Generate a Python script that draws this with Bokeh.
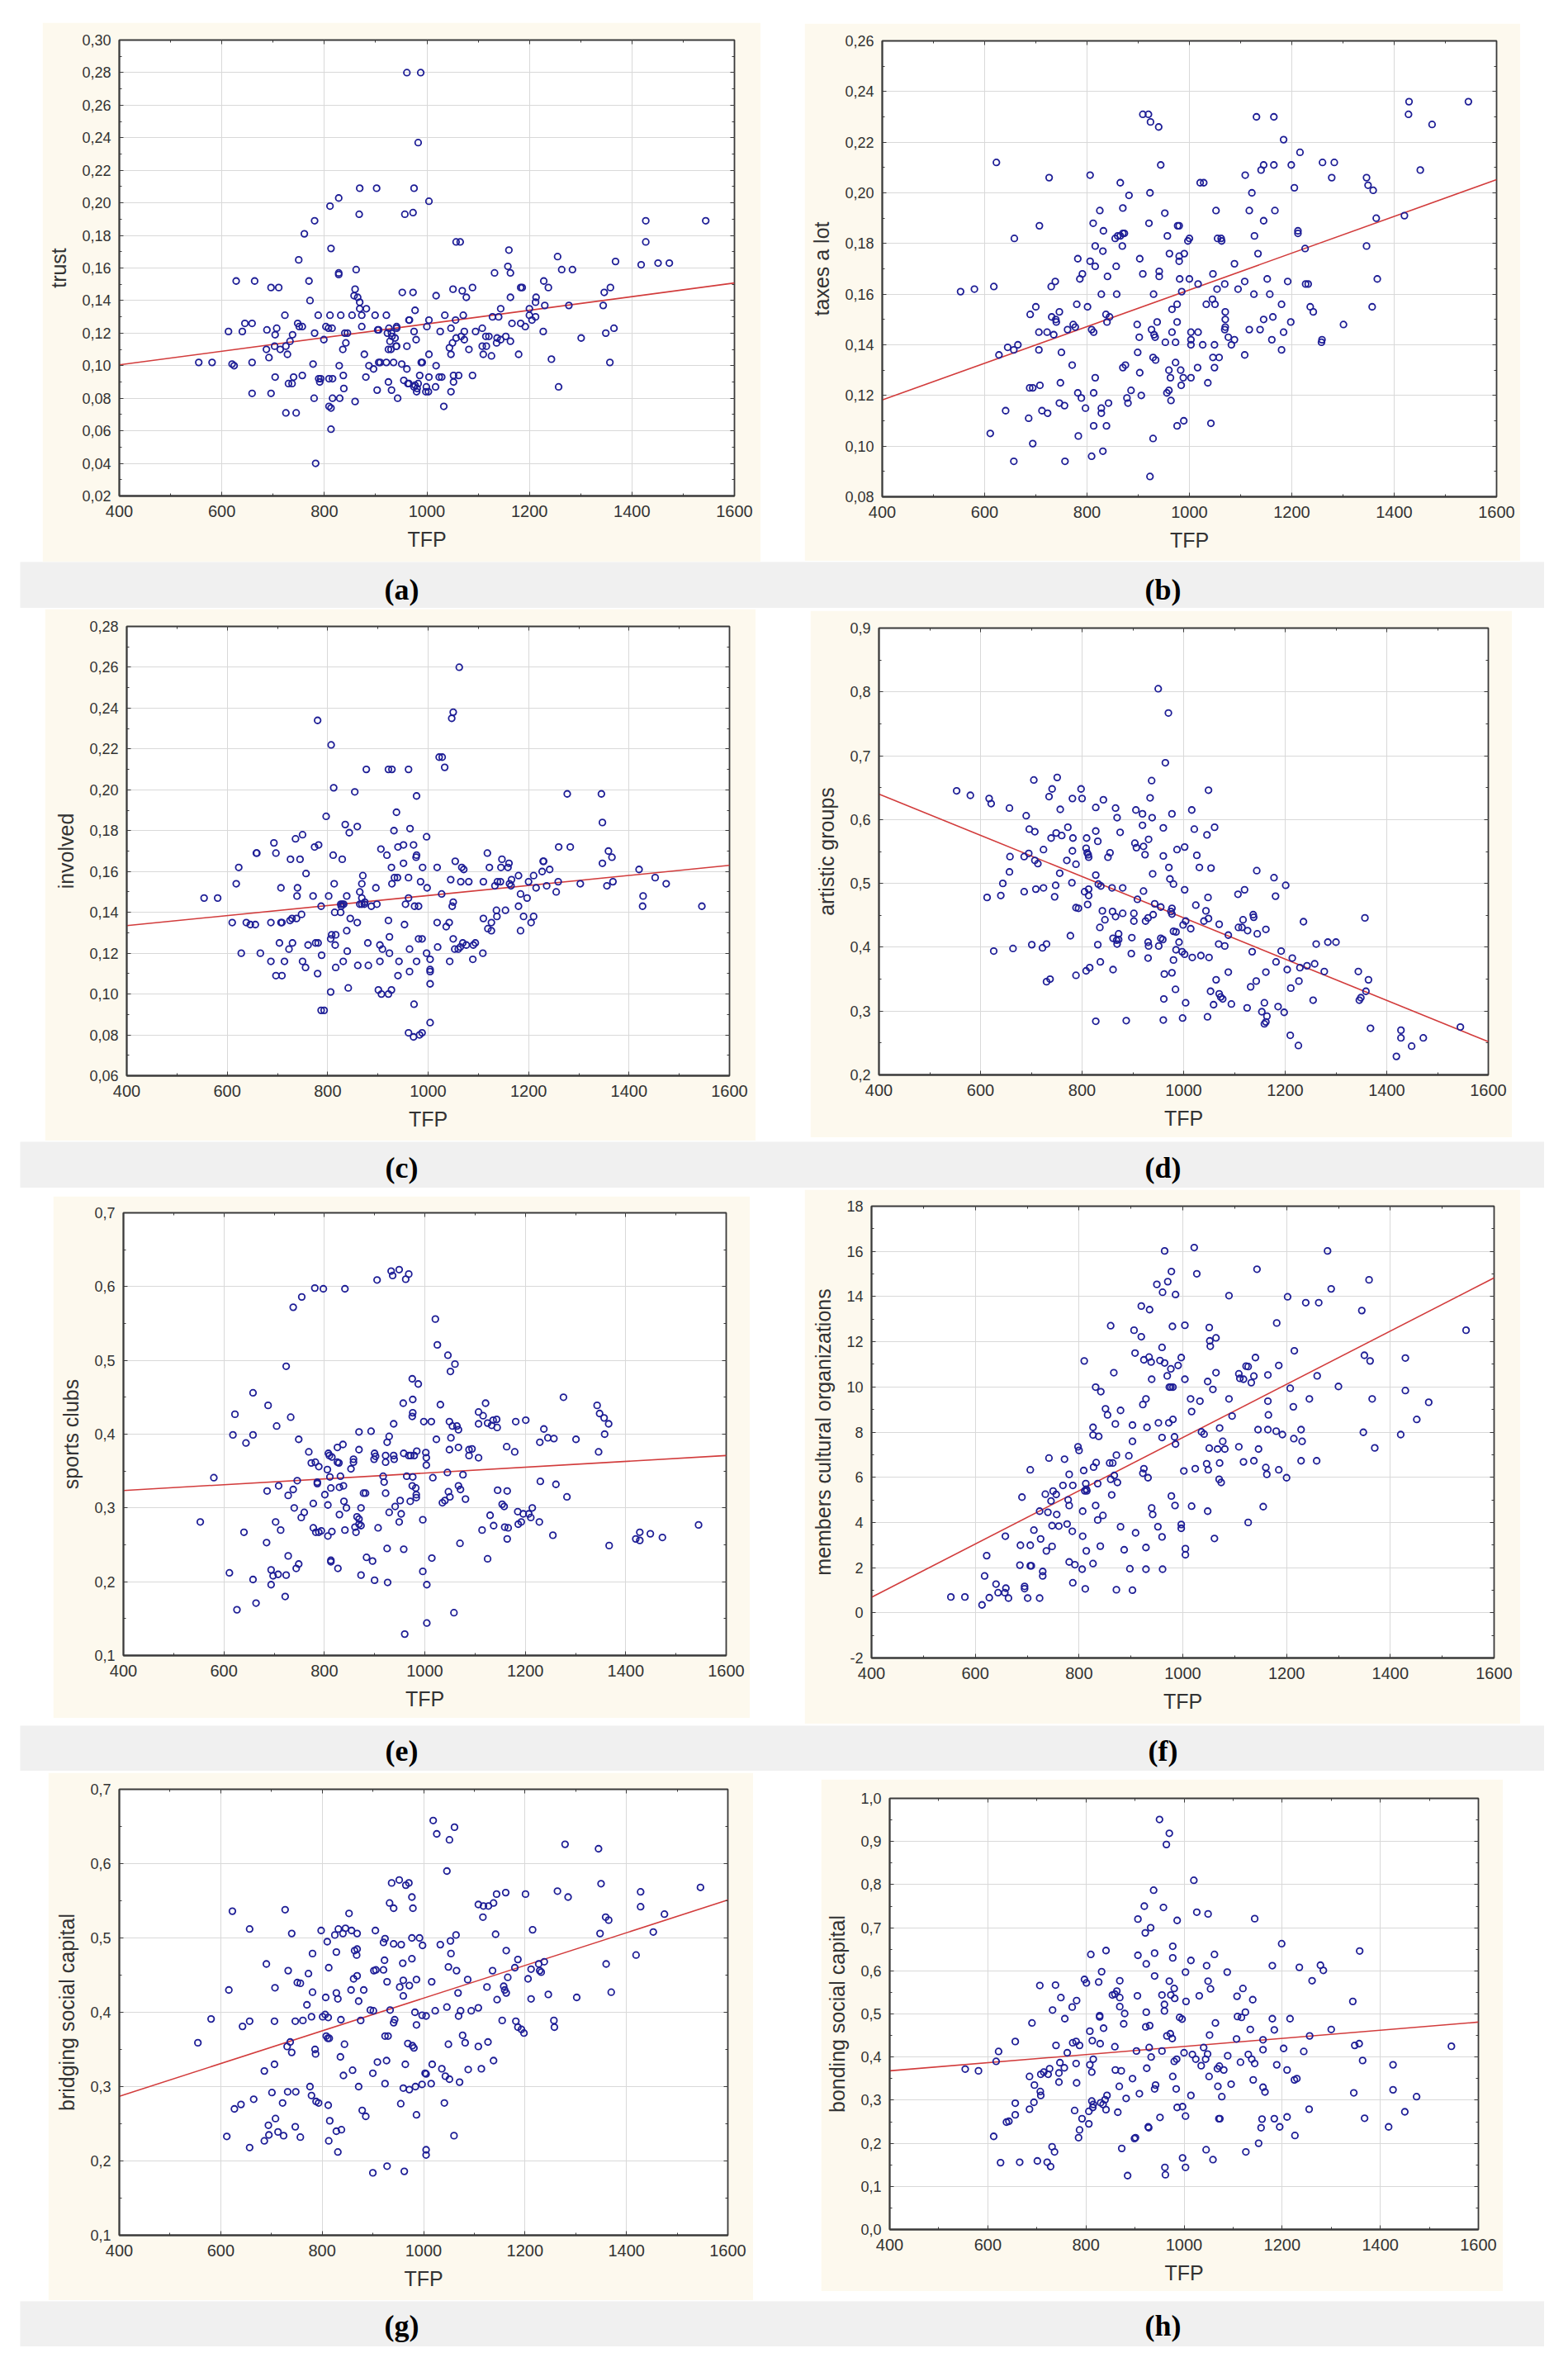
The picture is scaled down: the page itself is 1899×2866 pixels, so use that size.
from bokeh.plotting import figure
from bokeh.models import Range1d, FixedTicker, CustomJSTickFormatter, LinearAxis, Label, Spacer, ColumnDataSource
from bokeh.layouts import column, row
from bokeh.embed import file_html
from bokeh.resources import INLINE

# ---------------- data (TFP, value) ----------------
trust_pts = [(961,0.280),(988,0.280),(983,0.237),(869,0.209),(902,0.209),(975,0.209),(828,0.203),(811,0.198),(1004,0.201),(868,0.193),(957,0.193),(973,0.194),(781,0.189),(761,0.181),(813,0.172),(750,0.165),(828,0.157),(828,0.156),(862,0.159),(770,0.152),(628,0.152),(664,0.152),(696,0.148),(711,0.148),(772,0.140),(860,0.147),(858,0.143),(865,0.142),(869,0.139),(869,0.135),(873,0.131),(882,0.135),(873,0.124),(899,0.131),(921,0.131),(952,0.145),(973,0.145),(965,0.128),(966,0.128),(977,0.134),(1057,0.176),(1065,0.176),(1160,0.171),(1158,0.161),(1163,0.157),(1132,0.157),(1255,0.167),(1263,0.159),(1284,0.159),(1427,0.189),(1427,0.176),(1544,0.189),(1418,0.162),(1451,0.163),(1473,0.163),(1368,0.164),(1346,0.145),(1358,0.148),(1344,0.137),(1365,0.123),(1349,0.120),(1357,0.102),(1301,0.117),(1277,0.137),(1228,0.152),(1237,0.148),(1213,0.142),(1212,0.139),(1230,0.137),(1200,0.135),(1200,0.131),(1205,0.128),(1212,0.130),(1227,0.121),(1243,0.104),(1257,0.087),(1183,0.148),(1186,0.148),(1163,0.142),(1166,0.126),(1183,0.126),(1192,0.124),(1179,0.107),(1163,0.115),(1144,0.135),(1140,0.130),(1128,0.130),(1137,0.117),(1144,0.116),(1154,0.118),(1136,0.114),(1115,0.118),(1121,0.118),(1108,0.123),(1108,0.112),(1110,0.107),(1116,0.112),(1126,0.106),(1095,0.121),(1089,0.148),(1069,0.146),(1077,0.142),(1051,0.147),(1071,0.131),(1056,0.128),(1035,0.131),(1047,0.123),(1073,0.121),(1057,0.117),(1067,0.118),(1073,0.116),(1082,0.110),(1044,0.111),(1047,0.107),(1050,0.114),(1026,0.121),(1004,0.128),(1000,0.124),(1018,0.143),(1062,0.094),(1052,0.094),(1052,0.090),(1047,0.084),(1089,0.094),(1018,0.100),(1024,0.093),(1029,0.093),(1017,0.087),(1033,0.075),(1004,0.107),(1004,0.093),(999,0.087),(1003,0.084),(998,0.084),(986,0.094),(983,0.089),(981,0.086),(980,0.084),(975,0.087),(977,0.088),(963,0.089),(965,0.089),(955,0.091),(961,0.098),(951,0.101),(989,0.102),(991,0.102),(975,0.121),(979,0.116),(961,0.112),(926,0.123),(932,0.118),(931,0.120),(928,0.115),(930,0.110),(938,0.117),(940,0.112),(941,0.112),(906,0.122),(904,0.122),(923,0.120),(925,0.110),(941,0.123),(941,0.124),(906,0.102),(909,0.102),(921,0.102),(935,0.102),(896,0.098),(887,0.100),(903,0.085),(925,0.090),(931,0.085),(943,0.080),(878,0.107),(881,0.093),(860,0.078),(830,0.080),(829,0.100),(837,0.094),(838,0.086),(836,0.110),(842,0.114),(840,0.120),(845,0.120),(808,0.123),(815,0.123),(803,0.124),(811,0.131),(832,0.131),(854,0.131),(799,0.116),(781,0.120),(788,0.131),(778,0.101),(809,0.092),(816,0.092),(789,0.092),(791,0.090),(793,0.092),(780,0.080),(816,0.080),(809,0.075),(813,0.074),(813,0.061),(783,0.040),(745,0.071),(725,0.071),(730,0.089),(737,0.089),(704,0.093),(740,0.093),(757,0.094),(738,0.119),(733,0.115),(728,0.107),(725,0.112),(703,0.112),(714,0.110),(687,0.110),(692,0.105),(704,0.119),(707,0.123),(688,0.122),(723,0.131),(748,0.126),(751,0.124),(757,0.124),(696,0.083),(659,0.083),(659,0.102),(645,0.126),(659,0.126),(640,0.121),(613,0.121),(620,0.101),(624,0.100),(555,0.102),(581,0.102)]

taxes_pts = [(553,0.161),(580,0.162),(618,0.163),(623,0.212),(726,0.206),(707,0.187),(658,0.182),(628,0.136),(645,0.139),(657,0.138),(665,0.140),(641,0.114),(611,0.105),(657,0.094),(694,0.101),(686,0.111),(694,0.123),(688,0.123),(708,0.124),(712,0.114),(723,0.113),(706,0.138),(706,0.145),(700,0.155),(689,0.152),(722,0.145),(730,0.163),(738,0.165),(731,0.151),(739,0.150),(740,0.149),(735,0.144),(746,0.153),(750,0.137),(748,0.125),(746,0.117),(756,0.116),(757,0.094),(762,0.146),(773,0.148),(777,0.147),(771,0.132),(780,0.156),(782,0.174),(786,0.166),(791,0.168),(782,0.121),(789,0.119),(783,0.104),(797,0.115),(801,0.155),(806,0.173),(816,0.171),(806,0.207),(809,0.096),(812,0.188),(816,0.179),(809,0.146),(813,0.145),(813,0.121),(816,0.127),(813,0.108),(828,0.115),(828,0.113),(831,0.098),(825,0.193),(832,0.185),(831,0.177),(828,0.160),(837,0.152),(839,0.149),(844,0.151),(840,0.167),(838,0.108),(842,0.117),(855,0.182),(860,0.183),(865,0.183),(870,0.184),(873,0.184),(857,0.171),(858,0.160),(865,0.204),(870,0.194),(869,0.179),(870,0.131),(875,0.132),(882,0.199),(886,0.122),(878,0.119),(880,0.117),(903,0.174),(909,0.168),(898,0.148),(902,0.143),(899,0.137),(903,0.129),(906,0.120),(909,0.231),(920,0.231),(924,0.228),(940,0.226),(944,0.211),(923,0.200),(921,0.188),(930,0.160),(926,0.146),(931,0.144),(933,0.143),(929,0.135),(934,0.134),(929,0.103),(923,0.088),(941,0.169),(941,0.167),(937,0.149),(952,0.192),(957,0.183),(961,0.176),(953,0.141),(960,0.130),(963,0.127),(956,0.121),(960,0.122),(964,0.118),(966,0.154),(966,0.145),(973,0.141),(973,0.133),(976,0.156),(976,0.149),(976,0.108),(977,0.187),(980,0.187),(980,0.175),(980,0.173),(981,0.166),(985,0.161),(983,0.130),(984,0.124),(988,0.127),(989,0.110),(990,0.176),(997,0.181),(1000,0.182),(1000,0.166),(1003,0.145),(1003,0.142),(1003,0.140),(1003,0.127),(1017,0.145),(1017,0.164),(1016,0.131),(1026,0.140),(1021,0.204),(1028,0.204),(1033,0.156),(1036,0.125),(1042,0.109),(1046,0.168),(1045,0.158),(1050,0.156),(1049,0.140),(1046,0.135),(1049,0.131),(1058,0.135),(1052,0.193),(1055,0.182),(1062,0.182),(1063,0.181),(1054,0.162),(1069,0.164),(1070,0.153),(1070,0.150),(1070,0.147),(1069,0.146),(1076,0.143),(1082,0.140),(1088,0.142),(1088,0.172),(1095,0.162),(1109,0.207),(1108,0.165),(1108,0.136),(1117,0.146),(1122,0.200),(1117,0.193),(1127,0.183),(1126,0.160),(1131,0.230),(1134,0.176),(1138,0.146),(1140,0.209),(1145,0.211),(1145,0.189),(1145,0.150),(1152,0.166),(1157,0.160),(1161,0.142),(1163,0.151),(1165,0.230),(1165,0.211),(1167,0.193),(1180,0.156),(1180,0.138),(1184,0.145),(1184,0.221),(1192,0.165),(1198,0.149),(1199,0.211),(1205,0.202),(1212,0.185),(1212,0.184),(1216,0.216),(1226,0.178),(1227,0.164),(1232,0.164),(1236,0.155),(1242,0.153),(1260,0.212),(1258,0.141),(1259,0.142),(1278,0.206),(1283,0.212),(1301,0.148),(1346,0.206),(1349,0.203),(1359,0.201),(1346,0.179),(1365,0.190),(1367,0.166),(1357,0.155),(1420,0.191),(1429,0.236),(1428,0.231),(1451,0.209),(1474,0.227),(1545,0.236)]

involved_pts = [(554,0.147),(581,0.147),(610,0.135),(618,0.154),(623,0.162),(628,0.120),(638,0.135),(646,0.134),(656,0.134),(658,0.169),(659,0.169),(666,0.120),(687,0.135),(707,0.135),(709,0.135),(687,0.116),(693,0.174),(697,0.169),(697,0.109),(709,0.109),(704,0.125),(707,0.152),(714,0.116),(723,0.122),(725,0.136),(729,0.137),(730,0.125),(726,0.166),(736,0.176),(738,0.137),(740,0.152),(739,0.148),(745,0.166),(748,0.139),(750,0.178),(750,0.116),(756,0.113),(757,0.159),(761,0.124),(771,0.148),(774,0.172),(782,0.173),(776,0.125),(781,0.125),(780,0.110),(780,0.234),(787,0.143),(788,0.119),(787,0.092),(793,0.092),(797,0.187),(802,0.148),(806,0.101),(807,0.222),(808,0.129),(806,0.127),(816,0.129),(811,0.168),(812,0.201),(813,0.154),(814,0.140),(815,0.124),(816,0.113),(826,0.144),(827,0.143),(829,0.144),(832,0.144),(826,0.140),(829,0.166),(831,0.116),(835,0.183),(838,0.131),(838,0.148),(839,0.121),(841,0.103),(843,0.179),(845,0.137),(854,0.199),(859,0.182),(859,0.135),(860,0.114),(864,0.150),(864,0.144),(868,0.144),(873,0.144),(868,0.154),(870,0.158),(868,0.147),(874,0.145),(877,0.210),(880,0.125),(881,0.114),(887,0.143),(896,0.152),(898,0.144),(901,0.102),(904,0.124),(904,0.116),(906,0.171),(907,0.100),(909,0.122),(918,0.168),(921,0.100),(921,0.210),(928,0.210),(921,0.136),(923,0.120),(923,0.128),(927,0.162),(928,0.154),(927,0.102),(932,0.180),(933,0.157),(939,0.157),(937,0.189),(940,0.172),(940,0.109),(942,0.116),(951,0.173),(951,0.164),(953,0.134),(955,0.144),(961,0.157),(961,0.147),(961,0.210),(961,0.081),(963,0.111),(963,0.122),(964,0.181),(971,0.173),(972,0.095),(971,0.079),(973,0.143),(981,0.143),(976,0.167),(977,0.168),(977,0.197),(977,0.116),(981,0.127),(988,0.127),(983,0.080),(988,0.081),(985,0.155),(989,0.162),(997,0.177),(998,0.152),(997,0.120),(1004,0.117),(1004,0.112),(1004,0.111),(1004,0.105),(1004,0.086),(1018,0.162),(1018,0.135),(1019,0.123),(1022,0.216),(1028,0.216),(1033,0.211),(1027,0.149),(1036,0.133),(1042,0.135),(1043,0.116),(1047,0.235),(1050,0.238),(1045,0.156),(1050,0.145),(1048,0.143),(1050,0.127),(1054,0.165),(1053,0.122),(1060,0.122),(1064,0.123),(1069,0.125),(1076,0.124),(1062,0.260),(1065,0.155),(1067,0.162),(1071,0.161),(1081,0.155),(1089,0.117),(1090,0.124),(1094,0.125),(1109,0.120),(1110,0.137),(1110,0.155),(1118,0.169),(1119,0.132),(1126,0.131),(1122,0.162),(1126,0.135),(1133,0.153),(1136,0.141),(1137,0.138),(1138,0.155),(1144,0.155),(1145,0.162),(1147,0.166),(1154,0.141),(1159,0.162),(1161,0.164),(1162,0.154),(1165,0.153),(1166,0.156),(1180,0.158),(1180,0.143),(1184,0.131),(1184,0.149),(1190,0.138),(1197,0.147),(1200,0.155),(1205,0.135),(1210,0.138),(1210,0.158),(1215,0.152),(1227,0.160),(1229,0.165),(1230,0.165),(1236,0.153),(1242,0.161),(1255,0.150),(1259,0.155),(1260,0.172),(1283,0.172),(1277,0.198),(1303,0.154),(1345,0.198),(1347,0.184),(1347,0.164),(1356,0.153),(1359,0.170),(1366,0.167),(1368,0.155),(1420,0.161),(1428,0.148),(1427,0.143),(1452,0.157),(1474,0.154),(1545,0.143)]

artistic_pts = [(553,0.645),(580,0.638),(613,0.478),(617,0.633),(621,0.625),(626,0.394),(640,0.481),(644,0.500),(657,0.618),(658,0.542),(657,0.518),(664,0.398),(686,0.487),(686,0.542),(690,0.606),(695,0.547),(696,0.585),(701,0.404),(705,0.662),(707,0.536),(709,0.491),(707,0.581),(713,0.531),(724,0.553),(724,0.493),(722,0.399),(730,0.405),(730,0.346),(737,0.350),(735,0.636),(739,0.571),(741,0.648),(746,0.479),(748,0.497),(749,0.579),(751,0.666),(756,0.516),(757,0.616),(760,0.575),(770,0.536),(772,0.588),(777,0.418),(780,0.501),(781,0.633),(781,0.551),(782,0.571),(788,0.530),(788,0.462),(793,0.461),(788,0.356),(798,0.648),(800,0.633),(805,0.487),(808,0.555),(810,0.548),(812,0.545),(813,0.541),(809,0.571),(811,0.467),(813,0.481),(813,0.491),(808,0.363),(815,0.368),(827,0.619),(827,0.513),(827,0.582),(827,0.284),(831,0.566),(832,0.499),(837,0.496),(831,0.404),(835,0.431),(836,0.377),(840,0.457),(842,0.631),(845,0.443),(851,0.541),(855,0.548),(859,0.493),(860,0.456),(861,0.414),(868,0.411),(861,0.365),(866,0.618),(869,0.603),(866,0.448),(872,0.421),(869,0.405),(872,0.412),(875,0.580),(880,0.493),(880,0.453),(887,0.285),(897,0.390),(898,0.415),(902,0.453),(902,0.441),(904,0.563),(907,0.556),(906,0.615),(909,0.475),(919,0.591),(919,0.609),(921,0.558),(921,0.488),(924,0.545),(925,0.441),(930,0.446),(930,0.408),(931,0.402),(930,0.383),(931,0.569),(934,0.634),(937,0.661),(938,0.603),(939,0.515),(940,0.451),(943,0.468),(950,0.805),(951,0.402),(955,0.414),(955,0.463),(960,0.543),(960,0.587),(959,0.412),(961,0.319),(960,0.286),(964,0.689),(962,0.358),(970,0.767),(971,0.525),(973,0.507),(975,0.456),(977,0.452),(977,0.461),(977,0.609),(977,0.360),(980,0.380),(980,0.499),(980,0.425),(985,0.424),(985,0.396),(984,0.334),(987,0.553),(991,0.408),(997,0.393),(999,0.435),(998,0.289),(1002,0.557),(1002,0.490),(1002,0.389),(1004,0.441),(1004,0.313),(1014,0.429),(1016,0.615),(1017,0.384),(1021,0.585),(1024,0.466),(1026,0.544),(1031,0.525),(1034,0.387),(1040,0.441),(1044,0.457),(1046,0.576),(1047,0.291),(1048,0.478),(1049,0.646),(1049,0.445),(1050,0.384),(1053,0.331),(1054,0.524),(1059,0.310),(1061,0.588),(1064,0.349),(1069,0.405),(1070,0.436),(1070,0.327),(1073,0.322),(1077,0.319),(1081,0.402),(1088,0.419),(1088,0.361),(1094,0.311),(1107,0.483),(1108,0.431),(1115,0.431),(1117,0.443),(1120,0.490),(1125,0.305),(1126,0.426),(1132,0.338),(1135,0.393),(1137,0.451),(1138,0.447),(1143,0.347),(1144,0.520),(1145,0.421),(1154,0.299),(1159,0.313),(1159,0.280),(1162,0.283),(1164,0.292),(1162,0.361),(1162,0.428),(1178,0.509),(1181,0.480),(1182,0.377),(1186,0.307),(1192,0.394),(1198,0.298),(1201,0.497),(1204,0.365),(1210,0.262),(1211,0.336),(1214,0.383),(1226,0.246),(1227,0.347),(1229,0.368),(1236,0.440),(1243,0.371),(1255,0.317),(1258,0.374),(1261,0.405),(1277,0.362),(1284,0.408),(1300,0.408),(1344,0.362),(1346,0.317),(1349,0.321),(1357,0.446),(1359,0.331),(1364,0.349),(1368,0.273),(1419,0.229),(1428,0.270),(1428,0.258),(1449,0.245),(1472,0.258),(1545,0.275)]

sports_pts = [(553,0.281),(580,0.341),(611,0.212),(618,0.399),(622,0.427),(626,0.162),(640,0.267),(644,0.388),(658,0.399),(658,0.456),(658,0.203),(664,0.171),(685,0.253),(686,0.323),(688,0.439),(694,0.216),(698,0.208),(694,0.196),(708,0.210),(703,0.281),(705,0.411),(709,0.330),(713,0.270),(722,0.180),(724,0.209),(724,0.492),(728,0.235),(728,0.317),(733,0.423),(738,0.572),(738,0.325),(740,0.300),(744,0.218),(749,0.224),(746,0.337),(749,0.393),(754,0.287),(755,0.586),(760,0.294),(769,0.376),(774,0.361),(778,0.306),(778,0.273),(783,0.267),(789,0.267),(794,0.269),(781,0.598),(782,0.362),(786,0.333),(786,0.335),(789,0.356),(798,0.597),(801,0.318),(806,0.352),(808,0.374),(810,0.371),(807,0.304),(807,0.262),(811,0.342),(813,0.327),(813,0.229),(813,0.227),(815,0.268),(815,0.369),(826,0.362),(829,0.361),(826,0.382),(827,0.218),(830,0.291),(832,0.343),(830,0.328),(837,0.386),(838,0.330),(839,0.309),(841,0.597),(841,0.270),(844,0.300),(853,0.353),(858,0.366),(858,0.362),(861,0.274),(863,0.267),(865,0.288),(869,0.285),(869,0.278),(873,0.276),(869,0.379),(869,0.403),(873,0.300),(873,0.209),(878,0.320),(882,0.320),(884,0.233),(893,0.404),(896,0.228),(899,0.366),(900,0.374),(902,0.370),(900,0.202),(905,0.609),(907,0.273),(917,0.343),(919,0.335),(922,0.371),(922,0.362),(922,0.320),(925,0.389),(929,0.397),(925,0.245),(926,0.199),(929,0.294),(933,0.621),(936,0.615),(938,0.414),(938,0.371),(939,0.366),(941,0.302),(949,0.623),(949,0.281),(951,0.310),(953,0.292),(957,0.442),(958,0.374),(958,0.244),(960,0.129),(962,0.610),(964,0.343),(968,0.617),(968,0.371),(972,0.371),(971,0.309),(975,0.475),(976,0.447),(976,0.429),(975,0.424),(976,0.342),(975,0.330),(979,0.371),(982,0.327),(983,0.318),(983,0.314),(984,0.377),(987,0.468),(996,0.284),(996,0.214),(998,0.417),(1002,0.375),(1003,0.368),(1003,0.358),(1004,0.196),(1004,0.144),(1013,0.417),(1014,0.232),(1016,0.341),(1021,0.556),(1023,0.393),(1025,0.521),(1031,0.440),(1035,0.307),(1040,0.310),(1045,0.348),(1046,0.507),(1047,0.322),(1049,0.379),(1049,0.417),(1051,0.485),(1050,0.315),(1052,0.395),(1055,0.411),(1058,0.158),(1060,0.495),(1064,0.411),(1067,0.406),(1067,0.382),(1067,0.330),(1071,0.325),(1070,0.252),(1076,0.345),(1081,0.312),(1088,0.379),(1088,0.371),(1094,0.380),(1107,0.430),(1107,0.414),(1107,0.368),(1114,0.270),(1116,0.425),(1121,0.442),(1125,0.415),(1133,0.412),(1136,0.419),(1143,0.420),(1144,0.409),(1125,0.231),(1130,0.290),(1137,0.276),(1145,0.324),(1154,0.305),(1158,0.302),(1159,0.274),(1166,0.273),(1163,0.383),(1164,0.323),(1164,0.258),(1179,0.376),(1181,0.417),(1185,0.295),(1186,0.278),(1192,0.281),(1196,0.292),(1201,0.419),(1207,0.292),(1211,0.287),(1214,0.300),(1228,0.281),(1229,0.389),(1230,0.336),(1237,0.407),(1245,0.395),(1257,0.394),(1255,0.263),(1261,0.332),(1276,0.450),(1283,0.315),(1301,0.393),(1343,0.439),(1348,0.428),(1346,0.376),(1357,0.422),(1366,0.414),(1358,0.400),(1367,0.249),(1420,0.258),(1428,0.267),(1428,0.256),(1449,0.265),(1473,0.260),(1545,0.277)]

members_pts = [(553,0.70),(580,0.70),(613,0.35),(618,1.63),(622,2.53),(627,0.67),(640,1.27),(644,0.89),(657,0.89),(659,1.09),(664,0.65),(658,3.39),(687,2.99),(686,2.11),(690,5.12),(695,1.17),(695,1.07),(701,0.65),(706,2.08),(708,2.08),(706,2.99),(706,6.33),(713,3.66),(724,0.65),(724,4.50),(726,3.27),(730,1.83),(730,1.63),(735,5.25),(737,2.74),(740,4.45),(742,6.85),(748,2.94),(746,4.95),(748,3.86),(750,5.39),(756,5.24),(757,4.35),(761,3.84),(769,5.64),(772,6.80),(777,3.93),(779,5.00),(781,4.75),(781,2.25),(781,6.13),(788,5.64),(787,3.61),(792,2.13),(788,1.33),(800,7.19),(798,7.35),(806,1.93),(807,3.39),(807,4.50),(809,6.30),(810,11.15),(811,5.40),(813,5.72),(814,5.47),(815,5.40),(812,1.06),(814,2.74),(827,2.18),(827,8.21),(827,7.87),(828,6.45),(832,9.99),(832,4.75),(833,6.65),(836,5.72),(836,4.11),(838,7.81),(841,2.95),(842,9.79),(846,4.31),(851,9.03),(855,8.76),(861,12.71),(859,6.63),(865,6.63),(861,5.91),(863,5.22),(867,10.63),(868,6.08),(870,8.36),(872,1.02),(872,6.98),(874,5.77),(880,8.96),(880,3.81),(887,2.79),(896,6.95),(898,1.95),(903,8.31),(903,7.59),(903,1.00),(906,12.51),(908,11.50),(909,3.54),(920,13.58),(920,12.22),(923,9.22),(925,6.38),(923,6.18),(925,11.20),(929,9.47),(929,2.89),(929,1.93),(931,8.21),(933,5.98),(935,11.32),(936,13.42),(939,11.10),(940,10.34),(940,4.64),(942,4.35),(950,14.54),(952,3.81),(953,8.41),(956,11.17),(961,14.19),(960,11.75),(960,7.76),(960,3.36),(961,1.93),(965,16.02),(965,11.06),(971,14.66),(970,10.49),(973,8.41),(974,9.99),(977,9.99),(981,9.99),(977,10.80),(978,15.11),(980,12.68),(981,8.56),(978,5.17),(984,7.79),(985,4.75),(986,14.09),(986,7.47),(991,10.95),(997,11.30),(997,3.91),(997,3.74),(1002,6.28),(1004,10.34),(1004,12.73),(1005,2.84),(1005,2.57),(1015,9.47),(1017,8.91),(1017,4.72),(1022,16.17),(1024,6.38),(1027,15.01),(1033,9.37),(1036,8.01),(1041,7.91),(1046,6.60),(1048,4.50),(1049,6.33),(1048,10.24),(1051,12.63),(1051,7.29),(1052,12.04),(1053,11.80),(1058,9.89),(1061,3.29),(1064,10.63),(1064,12.17),(1067,7.25),(1081,7.25),(1070,5.91),(1071,8.18),(1071,6.63),(1074,5.77),(1077,7.59),(1089,14.04),(1089,9.47),(1095,8.71),(1108,7.35),(1108,10.58),(1110,10.38),(1117,10.34),(1117,6.68),(1122,10.92),(1126,10.90),(1126,4.00),(1132,10.19),(1137,10.48),(1137,6.73),(1140,11.30),(1143,15.21),(1145,8.11),(1146,7.25),(1155,4.70),(1160,6.43),(1162,6.13),(1164,10.53),(1164,9.37),(1165,8.76),(1164,8.11),(1181,12.83),(1180,8.04),(1185,6.33),(1185,10.95),(1192,7.89),(1200,5.98),(1202,13.99),(1207,9.94),(1213,9.12),(1214,7.71),(1215,11.60),(1228,8.11),(1228,6.73),(1230,7.59),(1237,13.73),(1244,9.47),(1258,6.73),(1259,10.49),(1262,13.73),(1279,16.02),(1286,14.34),(1300,10.02),(1345,13.38),(1348,7.99),(1350,11.40),(1359,14.74),(1361,11.15),(1365,9.47),(1370,7.30),(1420,7.89),(1429,11.28),(1429,9.84),(1451,8.56),(1474,9.32),(1546,12.51)]

bridging_pts = [(555,0.359),(581,0.391),(612,0.233),(616,0.430),(623,0.536),(627,0.270),(640,0.276),(643,0.381),(657,0.388),(657,0.512),(657,0.218),(665,0.283),(686,0.227),(686,0.321),(690,0.465),(694,0.248),(695,0.235),(701,0.292),(706,0.388),(706,0.330),(707,0.433),(708,0.257),(713,0.239),(722,0.278),(724,0.234),(727,0.538),(731,0.354),(733,0.456),(732,0.293),(748,0.293),(737,0.360),(740,0.346),(740,0.506),(747,0.388),(762,0.389),(747,0.246),(751,0.440),(757,0.439),(757,0.232),(770,0.410),(773,0.452),(776,0.300),(779,0.288),(779,0.394),(781,0.427),(781,0.479),(786,0.350),(787,0.344),(788,0.280),(793,0.278),(798,0.510),(801,0.394),(806,0.397),(807,0.420),(808,0.368),(811,0.365),(814,0.365),(810,0.495),(813,0.460),(812,0.393),(812,0.275),(813,0.227),(815,0.254),(825,0.504),(828,0.426),(831,0.418),(828,0.481),(828,0.240),(831,0.212),(832,0.512),(841,0.506),(846,0.513),(858,0.510),(869,0.506),(837,0.390),(836,0.340),(838,0.242),(842,0.315),(844,0.357),(853,0.533),(857,0.430),(860,0.322),(862,0.445),(864,0.483),(868,0.477),(869,0.485),(869,0.449),(872,0.415),(872,0.300),(876,0.389),(879,0.268),(882,0.430),(886,0.260),(895,0.403),(901,0.402),(900,0.184),(900,0.318),(902,0.456),(906,0.457),(905,0.510),(909,0.333),(921,0.494),(921,0.457),(923,0.470),(924,0.499),(924,0.368),(930,0.368),(924,0.304),(928,0.193),(927,0.335),(928,0.441),(933,0.547),(934,0.403),(937,0.574),(941,0.540),(941,0.386),(943,0.390),(941,0.492),(952,0.578),(953,0.434),(956,0.491),(955,0.277),(959,0.466),(960,0.298),(960,0.443),(960,0.422),(962,0.186),(964,0.330),(965,0.571),(971,0.574),(972,0.436),(969,0.358),(972,0.296),(977,0.555),(977,0.500),(977,0.472),(979,0.540),(978,0.355),(981,0.352),(983,0.400),(984,0.300),(986,0.444),(986,0.383),(986,0.262),(992,0.500),(998,0.490),(997,0.396),(1005,0.395),(997,0.303),(1003,0.318),(1005,0.317),(1005,0.215),(1005,0.208),(1016,0.441),(1015,0.304),(1017,0.330),(1019,0.658),(1023,0.402),(1026,0.640),(1033,0.491),(1036,0.324),(1041,0.278),(1043,0.314),(1051,0.310),(1046,0.590),(1046,0.407),(1049,0.461),(1049,0.357),(1051,0.632),(1053,0.496),(1054,0.479),(1061,0.649),(1060,0.234),(1064,0.504),(1065,0.456),(1068,0.426),(1069,0.395),(1073,0.402),(1071,0.306),(1077,0.369),(1082,0.359),(1087,0.444),(1088,0.323),(1094,0.402),(1108,0.406),(1108,0.354),(1108,0.545),(1118,0.543),(1128,0.543),(1138,0.547),(1117,0.528),(1114,0.324),(1125,0.434),(1127,0.360),(1136,0.456),(1138,0.335),(1142,0.505),(1144,0.559),(1145,0.417),(1155,0.389),(1158,0.435),(1160,0.430),(1163,0.426),(1162,0.561),(1163,0.483),(1166,0.447),(1180,0.460),(1182,0.388),(1186,0.380),(1193,0.377),(1198,0.372),(1186,0.471),(1201,0.559),(1206,0.445),(1212,0.458),(1212,0.418),(1215,0.511),(1227,0.465),(1229,0.456),(1232,0.454),(1238,0.468),(1246,0.424),(1257,0.389),(1258,0.380),(1264,0.563),(1279,0.626),(1285,0.555),(1302,0.420),(1345,0.620),(1348,0.506),(1350,0.573),(1359,0.528),(1365,0.524),(1360,0.465),(1370,0.427),(1419,0.477),(1428,0.562),(1428,0.542),(1453,0.508),(1475,0.532),(1546,0.568)]

bonding_pts = [(554,0.372),(581,0.368),(612,0.216),(617,0.390),(622,0.413),(626,0.155),(638,0.249),(643,0.251),(656,0.436),(656,0.293),(656,0.266),(665,0.156),(685,0.279),(685,0.355),(690,0.479),(694,0.295),(695,0.335),(701,0.159),(706,0.566),(707,0.320),(708,0.311),(708,0.360),(714,0.365),(723,0.360),(721,0.156),(728,0.146),(726,0.373),(731,0.192),(732,0.509),(736,0.180),(738,0.567),(739,0.427),(745,0.363),(745,0.342),(747,0.387),(749,0.538),(756,0.375),(757,0.489),(762,0.410),(772,0.516),(773,0.433),(777,0.276),(781,0.531),(780,0.436),(780,0.385),(781,0.340),(785,0.213),(787,0.427),(787,0.231),(792,0.257),(797,0.580),(801,0.572),(806,0.245),(806,0.274),(808,0.460),(808,0.382),(810,0.638),(812,0.365),(812,0.298),(815,0.290),(814,0.283),(813,0.438),(815,0.395),(826,0.574),(828,0.496),(828,0.493),(829,0.431),(830,0.294),(835,0.290),(839,0.301),(832,0.598),(836,0.467),(841,0.278),(841,0.647),(843,0.311),(854,0.544),(859,0.546),(863,0.553),(859,0.424),(860,0.370),(865,0.272),(869,0.538),(869,0.577),(869,0.517),(872,0.368),(868,0.332),(873,0.188),(877,0.477),(879,0.501),(882,0.304),(885,0.125),(895,0.350),(899,0.211),(901,0.213),(903,0.414),(905,0.542),(906,0.720),(906,0.636),(909,0.315),(919,0.750),(921,0.688),(923,0.616),(923,0.504),(922,0.470),(924,0.374),(927,0.238),(928,0.236),(929,0.422),(930,0.473),(932,0.700),(933,0.400),(938,0.787),(940,0.641),(940,0.588),(940,0.326),(942,0.335),(950,0.951),(951,0.260),(955,0.544),(955,0.414),(958,0.747),(960,0.522),(960,0.507),(961,0.144),(962,0.127),(965,0.449),(964,0.893),(970,0.919),(970,0.576),(973,0.544),(972,0.454),(976,0.443),(977,0.657),(977,0.630),(977,0.355),(980,0.559),(981,0.536),(980,0.390),(985,0.395),(984,0.326),(986,0.717),(986,0.283),(991,0.492),(996,0.488),(997,0.166),(997,0.285),(1000,0.410),(1003,0.597),(1004,0.529),(1003,0.263),(1003,0.144),(1014,0.311),(1014,0.624),(1017,0.406),(1020,0.810),(1024,0.395),(1026,0.736),(1031,0.542),(1035,0.380),(1040,0.422),(1044,0.395),(1045,0.185),(1046,0.612),(1048,0.407),(1049,0.576),(1049,0.732),(1051,0.355),(1052,0.451),(1054,0.558),(1059,0.162),(1062,0.638),(1064,0.479),(1068,0.373),(1069,0.332),(1071,0.257),(1073,0.257),(1072,0.379),(1077,0.308),(1081,0.370),(1088,0.597),(1089,0.403),(1096,0.337),(1107,0.442),(1108,0.541),(1109,0.494),(1117,0.492),(1115,0.388),(1120,0.559),(1125,0.504),(1126,0.180),(1131,0.406),(1135,0.464),(1138,0.395),(1140,0.533),(1141,0.347),(1144,0.721),(1144,0.385),(1152,0.200),(1157,0.236),(1159,0.256),(1161,0.440),(1161,0.417),(1161,0.330),(1165,0.319),(1180,0.489),(1184,0.463),(1184,0.257),(1189,0.382),(1195,0.238),(1199,0.663),(1203,0.420),(1180,0.612),(1210,0.370),(1210,0.261),(1216,0.489),(1226,0.218),(1225,0.347),(1230,0.350),(1235,0.608),(1244,0.413),(1255,0.279),(1256,0.449),(1261,0.577),(1278,0.613),(1284,0.601),(1300,0.464),(1344,0.529),(1346,0.317),(1348,0.427),(1357,0.431),(1358,0.646),(1364,0.392),(1368,0.258),(1417,0.238),(1426,0.382),(1426,0.324),(1450,0.273),(1474,0.308),(1545,0.425)]

# fitted lines: value at TFP = 400 and TFP = 1600
fit_tfp = [400, 1600]
fit_trust = [0.1005, 0.1508]
fit_taxes = [0.1182, 0.2052]
fit_involved = [0.1335, 0.1630]
fit_artistic = [0.640, 0.252]
fit_sports = [0.3236, 0.3710]
fit_members = [0.69, 14.83]
fit_bridging = [0.287, 0.551]
fit_bonding = [0.368, 0.481]

# axes
x_ticks = [400, 600, 800, 1000, 1200, 1400, 1600]
ticks_trust = [0.02, 0.04, 0.06, 0.08, 0.10, 0.12, 0.14, 0.16, 0.18, 0.20, 0.22, 0.24, 0.26, 0.28, 0.30]
ticks_taxes = [0.08, 0.10, 0.12, 0.14, 0.16, 0.18, 0.20, 0.22, 0.24, 0.26]
ticks_involved = [0.06, 0.08, 0.10, 0.12, 0.14, 0.16, 0.18, 0.20, 0.22, 0.24, 0.26, 0.28]
ticks_artistic = [0.2, 0.3, 0.4, 0.5, 0.6, 0.7, 0.8, 0.9]
ticks_sports = [0.1, 0.2, 0.3, 0.4, 0.5, 0.6, 0.7]
ticks_members = [-2, 0, 2, 4, 6, 8, 10, 12, 14, 16, 18]
ticks_bridging = [0.1, 0.2, 0.3, 0.4, 0.5, 0.6, 0.7]
ticks_bonding = [0.0, 0.1, 0.2, 0.3, 0.4, 0.5, 0.6, 0.7, 0.8, 0.9, 1.0]

y_labels = ["trust", "taxes a lot", "involved", "artistic groups", "sports clubs",
            "members cultural organizations", "bridging social capital", "bonding social capital"]
x_label = "TFP"
panel_labels = ["(a)", "(b)", "(c)", "(d)", "(e)", "(f)", "(g)", "(h)"]

# ---------------- styling ----------------
CREAM = "#fdf9ee"
BAND = "#f0f0f0"
FRAME = "#3a3a3a"
GRID = "#d9d9d9"
DOT = "#1e1e96"
FITC = "#d23c3c"
TXT = "#333333"
SANS = "Liberation Sans"
ORIGIN = 0   # page offset of the layout (Bokeh's page template has no body margin)


def mids(t):
    return [(a + b) / 2 for a, b in zip(t[:-1], t[1:])]


def make_panel(points, fit, ylab, yticks, ydec, w, h, bl, br, bt, bb):
    p = figure(width=w, height=h, x_range=Range1d(x_ticks[0], x_ticks[-1]),
               y_range=Range1d(yticks[0], yticks[-1]), output_backend="svg",
               toolbar_location=None, title=None,
               min_border_left=bl, min_border_right=br, min_border_top=bt, min_border_bottom=bb,
               border_fill_color=CREAM, background_fill_color="white",
               outline_line_color=FRAME, outline_line_width=1.8)
    xt = FixedTicker(ticks=x_ticks, minor_ticks=mids(x_ticks))
    yt = FixedTicker(ticks=yticks, minor_ticks=mids(yticks))
    p.xgrid.ticker = xt
    p.ygrid.ticker = yt
    p.grid.grid_line_color = GRID
    p.grid.grid_line_width = 1
    for ax, tk, dec, size, std in ((p.xaxis[0], xt, 0, "20px", 11), (p.yaxis[0], yt, ydec, "18px", 10)):
        ax.ticker = tk
        ax.formatter = CustomJSTickFormatter(code="return tick.toFixed(%d).replace('.', ',');" % dec)
        ax.major_tick_in = 5
        ax.major_tick_out = 0
        ax.minor_tick_in = 3
        ax.minor_tick_out = 0
        ax.axis_line_color = FRAME
        ax.axis_line_width = 1.8
        ax.major_tick_line_color = FRAME
        ax.minor_tick_line_color = FRAME
        ax.major_label_text_font = SANS
        ax.major_label_text_font_size = size
        ax.major_label_text_color = TXT
        ax.major_label_standoff = std
        ax.axis_label_text_font = SANS
        ax.axis_label_text_font_size = "25px"
        ax.axis_label_text_font_style = "normal"
        ax.axis_label_text_color = TXT
    p.xaxis.axis_label = x_label
    p.xaxis.axis_label_standoff = 10
    p.yaxis.axis_label = ylab
    p.yaxis.axis_label_standoff = 11
    for side, tk in (("right", yt), ("above", xt)):
        ax = LinearAxis(ticker=tk, formatter=CustomJSTickFormatter(code="return '';"),
                        major_label_text_font_size="0px", major_label_standoff=0,
                        major_tick_in=5, major_tick_out=0, minor_tick_in=3, minor_tick_out=0,
                        axis_line_color=None, major_tick_line_color=FRAME,
                        minor_tick_line_color=FRAME)
        p.add_layout(ax, side)
    src = ColumnDataSource(dict(x=[q[0] for q in points], y=[q[1] for q in points]))
    p.line(fit_tfp, fit, line_color=FITC, line_width=1.6)
    p.scatter("x", "y", source=src, marker="circle", size=7.5, fill_color=None,
              line_color=DOT, line_width=1.8)
    return p


specs = [
    # points, fit, ticks, decimals, page x, page y, w, h, borders (l, r, t, b)
    (trust_pts, fit_trust, ticks_trust, 2, 51, 27, 870, 653, (93, 32, 21, 80)),
    (taxes_pts, fit_taxes, ticks_taxes, 2, 974, 28, 867, 651, (94, 29, 21, 78)),
    (involved_pts, fit_involved, ticks_involved, 2, 54, 737, 861, 644, (99, 32, 21, 79)),
    (artistic_pts, fit_artistic, ticks_artistic, 1, 981, 739, 850, 638, (83, 29, 21, 76)),
    (sports_pts, fit_sports, ticks_sports, 1, 64, 1448, 844, 632, (85, 29, 20, 76)),
    (members_pts, fit_members, ticks_members, 0, 974, 1440, 867, 647, (81, 32, 20, 80)),
    (bridging_pts, fit_bridging, ticks_bridging, 1, 58, 2146, 854, 639, (86, 31, 20, 79)),
    (bonding_pts, fit_bonding, ticks_bonding, 1, 994, 2154, 826, 620, (83, 30, 23, 75)),
]

panels = []
for i, (pts, fit, tks, dec, px, py, w, h, (bl, br, bt, bb)) in enumerate(specs):
    panels.append((make_panel(pts, fit, y_labels[i], tks, dec, w, h, bl, br, bt, bb), px, py, w, h))

# blocks (page y top, height) and label bands (page y top, height, label centre from top)
blocks = [(ORIGIN, 680 - ORIGIN), (736, 646), (1438, 651), (2144, 642)]
bands = [(680, 56, 33), (1382, 56, 31), (2089, 55, 30), (2786, 55, 29)]
BAND_X, BAND_W = 24, 1846
LABEL_CX = [462, 1384]


def wrap(fig, py, h, top, bh):
    kids = []
    if py - top > 0:
        kids.append(Spacer(width=fig.width, height=py - top))
    kids.append(fig)
    rest = bh - (py - top) - h
    if rest > 0:
        kids.append(Spacer(width=fig.width, height=rest))
    return column(*kids)


def band_fig(labels, h, cy):
    b = figure(width=BAND_W, height=h, x_range=Range1d(0, BAND_W), y_range=Range1d(0, h),
               output_backend="svg", toolbar_location=None, title=None,
               x_axis_type=None, y_axis_type=None, min_border=0,
               border_fill_color=BAND, background_fill_color=BAND, outline_line_color=None)
    b.grid.visible = False
    for cx, t in zip(LABEL_CX, labels):
        b.add_layout(Label(x=cx, y=h - cy, text=t, text_align="center", text_baseline="middle",
                           text_font="Liberation Serif", text_font_style="bold",
                           text_font_size="36px", text_color="#000000"))
    return b


rows = []
for k, (top, bh) in enumerate(blocks):
    (fl, lx, ly, lw, lh), (fr, rx, ry, rw, rh) = panels[2 * k], panels[2 * k + 1]
    rows.append(row(Spacer(width=lx - ORIGIN, height=bh), wrap(fl, ly, lh, top, bh),
                    Spacer(width=rx - (lx + lw), height=bh), wrap(fr, ry, rh, top, bh)))
    by, bhh, cy = bands[k]
    rows.append(row(Spacer(width=BAND_X - ORIGIN, height=bhh),
                    band_fig(panel_labels[2 * k:2 * k + 2], bhh, cy)))

layout = column(*rows)
open("out.html", "w").write(file_html(layout, INLINE))
